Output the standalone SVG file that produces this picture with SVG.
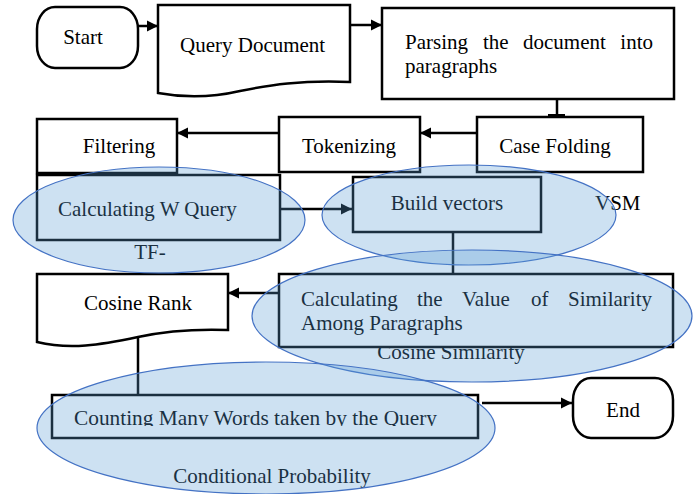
<svg xmlns="http://www.w3.org/2000/svg" width="699" height="494" viewBox="0 0 699 494" font-family="'Liberation Serif', 'Times New Roman', Times, serif">
<defs>
<style>
.b{fill:#fff;stroke:#000;stroke-width:2.5}
.t{font-family:'Liberation Serif','Times New Roman',Times,serif;font-size:21px;fill:#000}
.c{text-anchor:middle}
.l{stroke:#000;stroke-width:2.5;fill:none}
.e{fill:#5B9BD5;fill-opacity:0.3;stroke:#4472C4;stroke-width:1.2}
</style>
<marker id="ah" viewBox="0 0 10 10" refX="10" refY="5" markerWidth="4.4" markerHeight="5.6" markerUnits="strokeWidth" orient="auto">
<path d="M0,0 L10,5 L0,10 Z" fill="#000"/>
</marker>
<clipPath id="cc"><rect x="52" y="395" width="426" height="31"/></clipPath>
</defs>
<g id="labels-behind">
<text class="t c" x="150" y="259">TF-</text>
<text class="t c" x="451" y="359">Cosine Similarity</text>
<text class="t" x="595" y="210">VSM</text>
<text class="t c" x="272" y="483">Conditional Probability</text>
</g>
<g id="start">
<rect class="b" x="37" y="7" width="101" height="61" rx="18" ry="22"/>
<text class="t c" x="83" y="44">Start</text>
</g>
<g id="query-document">
<path class="b" d="M158,5 H350 V82 C300,80 270,85 240,91 C210,98 185,98 158,93 Z"/>
<text class="t" x="180" y="52">Query Document</text>
</g>
<g id="parsing">
<rect class="b" x="382" y="8" width="292" height="91"/>
<text class="t" x="405" y="49">Parsing</text>
<text class="t" x="483" y="49">the</text>
<text class="t" x="523" y="49">document</text>
<text class="t" x="653" y="49" text-anchor="end">into</text>
<text class="t" x="405" y="73">paragraphs</text>
</g>
<g id="case-folding">
<rect class="b" x="477" y="117" width="166" height="55"/>
<text class="t c" x="555" y="153">Case Folding</text>
</g>
<g id="tokenizing">
<rect class="b" x="279" y="117" width="141" height="55"/>
<text class="t c" x="349" y="153">Tokenizing</text>
</g>
<g id="filtering">
<rect class="b" x="37" y="119" width="140" height="54"/>
<text class="t c" x="119" y="153">Filtering</text>
</g>
<g id="calc-w-query">
<rect class="b" x="37" y="175" width="243" height="65"/>
<text class="t" x="58" y="216">Calculating W Query</text>
</g>
<g id="build-vectors">
<rect class="b" x="353" y="177" width="188" height="55"/>
<text class="t c" x="447" y="210">Build vectors</text>
</g>
<g id="similarity">
<rect class="b" x="279" y="274" width="394" height="73"/>
<text class="t" x="301" y="306">Calculating</text>
<text class="t" x="417" y="306">the</text>
<text class="t" x="462" y="306">Value</text>
<text class="t" x="531" y="306">of</text>
<text class="t" x="652" y="306" text-anchor="end">Similarity</text>
<text class="t" x="301" y="330">Among Paragraphs</text>
</g>
<g id="cosine-rank">
<path class="b" d="M37,274 H228 V330 C200,329 170,330 138,337 C100,345 70,350 37,342 Z"/>
<text class="t c" x="138" y="310">Cosine Rank</text>
</g>
<g id="counting">
<rect class="b" x="52" y="395" width="426" height="43"/>
<text class="t" x="74" y="425" clip-path="url(#cc)" textLength="363" lengthAdjust="spacingAndGlyphs">Counting Many Words taken by the Query</text>
</g>
<g id="end">
<rect class="b" x="573" y="378" width="100" height="60" rx="18" ry="22"/>
<text class="t c" x="623" y="417">End</text>
</g>
<g id="connectors">
<line class="l" x1="138" y1="26" x2="158" y2="26" marker-end="url(#ah)"/>
<line class="l" x1="350" y1="25" x2="382" y2="25" marker-end="url(#ah)"/>
<line class="l" x1="557" y1="99" x2="557" y2="115"/>
<rect x="548" y="114" width="17" height="3" fill="#000"/>
<line class="l" x1="477" y1="133" x2="420" y2="133" marker-end="url(#ah)"/>
<line class="l" x1="279" y1="133" x2="177" y2="133" marker-end="url(#ah)"/>
<line class="l" x1="280" y1="209" x2="352" y2="209" marker-end="url(#ah)"/>
<line class="l" x1="453" y1="232" x2="453" y2="274"/>
<line class="l" x1="279" y1="293" x2="228" y2="293" marker-end="url(#ah)"/>
<line class="l" x1="138" y1="337" x2="138" y2="395"/>
<line class="l" x1="482" y1="403" x2="572" y2="403" marker-end="url(#ah)"/>
</g>
<g id="groups">
<ellipse class="e" cx="159" cy="220" rx="146" ry="53"/>
<ellipse class="e" cx="469" cy="215" rx="147" ry="50"/>
<ellipse class="e" cx="472" cy="316" rx="220" ry="66"/>
<ellipse class="e" cx="266" cy="428" rx="229" ry="66"/>
</g>
</svg>
